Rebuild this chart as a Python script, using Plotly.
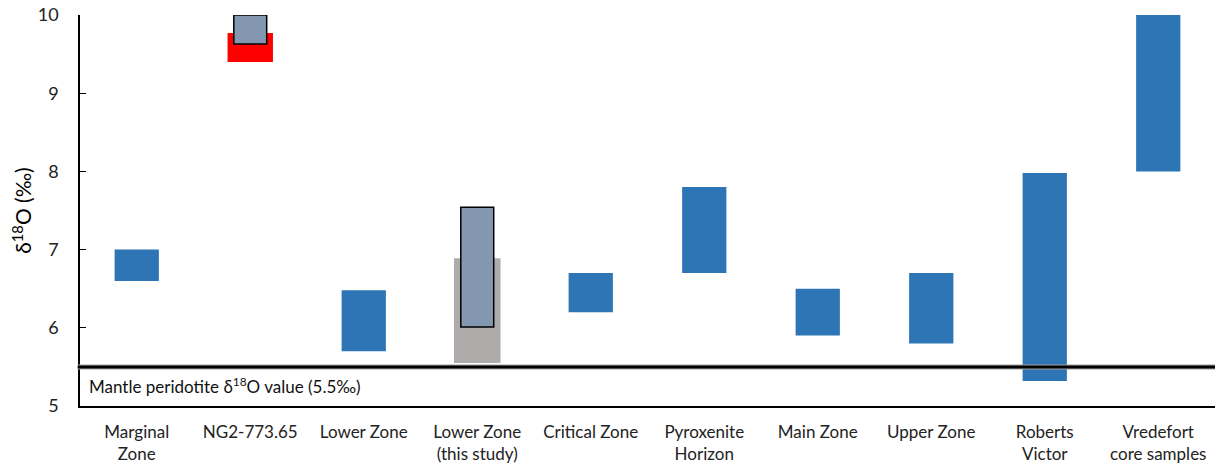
import plotly.graph_objects as go

categories = ["Marginal<br>Zone", "NG2-773.65", "Lower Zone", "Lower Zone<br>(this study)",
              "Critical Zone", "Pyroxenite<br>Horizon", "Main Zone", "Upper Zone",
              "Roberts<br>Victor", "Vredefort<br>core samples"]

# literature ranges (blue)
lit_cats = ["Marginal<br>Zone", "Lower Zone", "Critical Zone", "Pyroxenite<br>Horizon",
            "Main Zone", "Upper Zone", "Roberts<br>Victor", "Vredefort<br>core samples"]
lit_low = [6.6, 5.7, 6.2, 6.7, 5.9, 5.8, 5.32, 8.0]
lit_high = [7.0, 6.48, 6.7, 7.8, 6.5, 6.7, 7.98, 10.0]

# NG2-773.65 (red) and this study (grey) ranges
ng2_cat = ["NG2-773.65"]
ng2_low = [9.4]
ng2_high = [9.77]
study_cat = ["Lower Zone<br>(this study)"]
study_low = [5.55]
study_high = [6.89]

# outlined blue-grey ranges
box_cats = ["NG2-773.65", "Lower Zone<br>(this study)"]
box_low = [9.63, 6.01]
box_high = [10.0, 7.54]

MANTLE = 5.5
FONT = "Lato, 'Open Sans', sans-serif"

def diff(h, l):
    return [a - b for a, b in zip(h, l)]

fig = go.Figure()
fig.add_trace(go.Bar(x=lit_cats, y=diff(lit_high, lit_low), base=lit_low, width=0.39,
                     marker=dict(color="#2E75B6", line=dict(width=0)), showlegend=False))
fig.add_trace(go.Bar(x=ng2_cat, y=diff(ng2_high, ng2_low), base=ng2_low, width=0.4,
                     marker=dict(color="#FF0000", line=dict(width=0)), showlegend=False))
fig.add_trace(go.Bar(x=study_cat, y=diff(study_high, study_low), base=study_low, width=0.41,
                     marker=dict(color="#AFABAB", line=dict(width=0)), showlegend=False))
fig.add_trace(go.Bar(x=box_cats, y=diff(box_high, box_low), base=box_low, width=0.29,
                     marker=dict(color="#8497B0", line=dict(width=1.5, color="black")),
                     showlegend=False))

fig.add_shape(type="line", xref="paper", yref="y", x0=-0.002, x1=1, y0=MANTLE, y1=MANTLE,
              line=dict(color="#A0A0A0", width=5), layer="above")
fig.add_shape(type="line", xref="paper", yref="y", x0=-0.002, x1=1, y0=MANTLE, y1=MANTLE,
              line=dict(color="black", width=3), layer="above")

fig.add_annotation(x=0.006, y=(MANTLE + 5.0) / 2 + 0.01, xref="paper", yref="y",
                   text="Mantle peridotite δ<sup>18</sup>O value (5.5‰)", showarrow=False,
                   xanchor="left", yanchor="middle", font=dict(size=17, color="#111", family=FONT))

fig.update_layout(
    width=1222, height=465,
    margin=dict(l=80, r=7, t=15, b=59),
    plot_bgcolor="white", paper_bgcolor="white",
    barmode="overlay",
    font=dict(family=FONT, size=18, color="black"),
    xaxis=dict(categoryorder="array", categoryarray=categories, showline=True, automargin=False,
               linecolor="black", linewidth=1.5, ticks="", ticklabelstandoff=10,
               tickfont=dict(size=17, color="#222")),
    yaxis=dict(range=[5, 10], dtick=1, showline=True, linecolor="black", linewidth=1.5,
               automargin=False,
               ticks="inside", ticklen=6, tickcolor="black", showgrid=False, zeroline=False,
               tickfont=dict(size=18, color="#222"), ticklabelstandoff=16,
               title=dict(text="δ<sup>18</sup>O (‰)", font=dict(size=21), standoff=0)),
)

fig.write_html("out.html", config={"displayModeBar": False},
               post_script="document.body.style.margin='0';")
